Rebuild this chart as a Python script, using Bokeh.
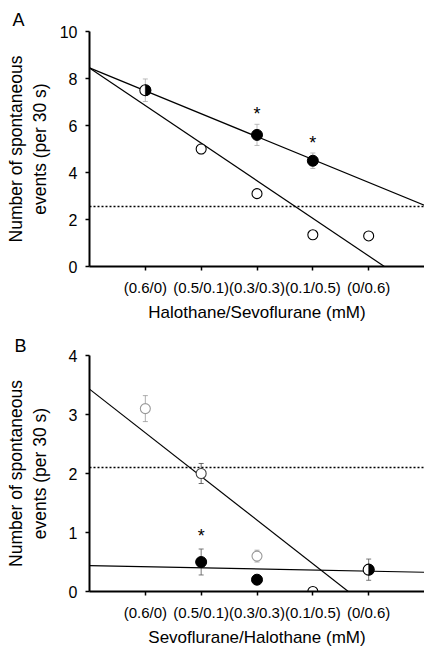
import numpy as np
from bokeh.plotting import figure
from bokeh.models import Range1d, FixedTicker, ColumnDataSource, Whisker, TeeHead, Span
from bokeh.layouts import column
from bokeh.embed import file_html
from bokeh.resources import INLINE
from bokeh.core.properties import value

FONT = "Liberation Sans"

# ---------------- data ----------------
cat_pos = [1, 2, 3, 4, 5]
x_labels = ["(0.6/0)", "(0.5/0.1)", "(0.3/0.3)", "(0.1/0.5)", "(0/0.6)"]

# Panel A (Halothane/Sevoflurane)
A_half_x = [1]
A_half_y = [7.5]
A_half_err = [0.48]
A_filled_x = [3, 4]
A_filled_y = [5.6, 4.5]
A_filled_err = [0.45, 0.33]
A_open_x = [2, 3, 4, 5]
A_open_y = [5.0, 3.1, 1.35, 1.3]
A_open_err = [0.2, 0.0, 0.0, 0.0]
A_star_x = [3, 4]
A_star_y = [6.6, 5.4]
A_dotted = 2.55
A_fit_steep = (8.45, -1.6)    # intercept, slope
A_fit_shallow = (8.45, -0.975)

# Panel B (Sevoflurane/Halothane)
B_half_x = [5]
B_half_y = [0.37]
B_half_err = [0.18]
B_filled_x = [2, 3]
B_filled_y = [0.5, 0.2]
B_filled_err = [0.22, 0.07]
B_open_x = [1, 2, 3, 4]
B_open_y = [3.1, 2.0, 0.6, 0.0]
B_open_err = [0.22, 0.17, 0.1, 0.0]
B_star_x = [2]
B_star_y = [1.0]
B_dotted = 2.1
B_fit_steep = (3.43, -0.74)
B_fit_flat = (0.44, -0.019)

X_MAX = 6.0


def make_panel(letter, letter_offset, letter_standoff, y_max, y_ticks, xlabel, height, top,
               bottom, label_standoff, title_std, err_color,
               half, filled, opened, open_colors, stars, dotted, fits):
    p = figure(width=424, height=height, output_backend="svg", toolbar_location=None,
               x_range=Range1d(0, X_MAX), y_range=Range1d(0, y_max),
               min_border_left=89, min_border_right=0, min_border_top=top, min_border_bottom=bottom)
    p.outline_line_color = None
    p.grid.visible = False
    p.background_fill_color = "white"

    # panel letter as title
    p.title.text = letter
    p.title.align = "left"
    p.title.offset = letter_offset
    p.title.text_font = FONT
    p.title.text_font_style = "normal"
    p.title.text_font_size = "18px"
    p.title.text_color = "black"
    p.title.standoff = letter_standoff

    # axes
    p.xaxis.ticker = FixedTicker(ticks=cat_pos)
    p.xaxis.major_label_overrides = {c: l for c, l in zip(cat_pos, x_labels)}
    p.yaxis.ticker = FixedTicker(ticks=y_ticks)
    for ax in (p.xaxis, p.yaxis):
        ax.axis_line_width = 2
        ax.axis_line_color = "black"
        ax.major_tick_line_width = 1.5
        ax.major_tick_line_color = "black"
        ax.major_tick_in = 0
        ax.major_tick_out = 4
        ax.minor_tick_line_color = None
        ax.major_label_text_font = FONT
        ax.major_label_text_color = "black"
        ax.axis_label_text_font = FONT
        ax.axis_label_text_font_style = "normal"
        ax.axis_label_text_color = "black"
    p.xaxis.axis_label_text_font_size = "17px"
    p.yaxis.axis_label_text_font_size = "17.5px"
    p.xaxis.major_label_text_font_size = "15px"
    p.yaxis.major_label_text_font_size = "16px"
    p.xaxis.major_label_standoff = 8
    p.yaxis.major_label_standoff = 8
    p.xaxis.axis_label = xlabel
    p.xaxis.axis_label_standoff = title_std
    p.yaxis.axis_label = "Number of spontaneous\nevents (per 30 s)"
    p.yaxis.axis_label_standoff = label_standoff
    p.yaxis.axis_label_text_line_height = 1.2

    # dotted reference line
    p.add_layout(Span(location=dotted, dimension="width", line_color="black",
                      line_width=1.5, line_dash="2 2"))

    # fitted lines
    xs = np.array([0.0, X_MAX])
    for a, b in fits:
        p.line(xs, a + b * xs, line_color="black", line_width=1.2)

    # error bars
    for xv, yv, ev in (half, filled):
        src = ColumnDataSource(dict(x=xv, up=[y + e for y, e in zip(yv, ev)],
                                    lo=[y - e for y, e in zip(yv, ev)]))
        p.add_layout(Whisker(source=src, base="x", upper="up", lower="lo",
                             line_color=err_color, line_width=0.8,
                             upper_head=TeeHead(size=5, line_color=err_color, line_width=0.8),
                             lower_head=TeeHead(size=5, line_color=err_color, line_width=0.8)))
    xv, yv, ev = opened
    src = ColumnDataSource(dict(x=xv, up=[y + e for y, e in zip(yv, ev)],
                                lo=[y - e for y, e in zip(yv, ev)], c=open_colors))
    p.add_layout(Whisker(source=src, base="x", upper="up", lower="lo",
                         line_color="c", line_width=0.8,
                         upper_head=TeeHead(size=5, line_color="c", line_width=0.8),
                         lower_head=TeeHead(size=5, line_color="c", line_width=0.8)))

    # markers
    p.scatter(opened[0], opened[1], marker="circle", size=10, fill_color="white",
              line_color=open_colors, line_width=1.1)
    p.scatter(filled[0], filled[1], marker="circle", size=11, fill_color="black",
              line_color="black")
    p.scatter(half[0], half[1], marker="circle", size=11, fill_color="white",
              line_color="black", line_width=1.1)
    p.wedge(half[0], half[1], radius=5.5, radius_units="screen",
            start_angle=-np.pi / 2, end_angle=np.pi / 2,
            fill_color="black", line_color="black", line_width=0.5)

    # significance stars
    p.text(stars[0], stars[1], text=["*"] * len(stars[0]), text_align="center",
           text_baseline="middle", text_font=value(FONT), text_font_size="18px",
           text_color="black", y_offset=3)
    return p


pA = make_panel("A", -77, 3, 10, [0, 2, 4, 6, 8, 10], "Halothane/Sevoflurane (mM)",
                330, 31, 64, 7, 4, "#aaaaaa",
                (A_half_x, A_half_y, A_half_err),
                (A_filled_x, A_filled_y, A_filled_err),
                (A_open_x, A_open_y, A_open_err),
                ["black", "black", "black", "black"],
                (A_star_x, A_star_y), A_dotted, [A_fit_steep, A_fit_shallow])

pB = make_panel("B", -75, 0, 4, [0, 1, 2, 3, 4], "Sevoflurane/Halothane (mM)",
                321, 25, 60, 16, 4, "#555555",
                (B_half_x, B_half_y, B_half_err),
                (B_filled_x, B_filled_y, B_filled_err),
                (B_open_x, B_open_y, B_open_err),
                ["#999999", "#444444", "#999999", "black"],
                (B_star_x, B_star_y), B_dotted, [B_fit_steep, B_fit_flat])

layout = column(pA, pB, spacing=0)
open("out.html", "w").write(file_html(layout, INLINE))
